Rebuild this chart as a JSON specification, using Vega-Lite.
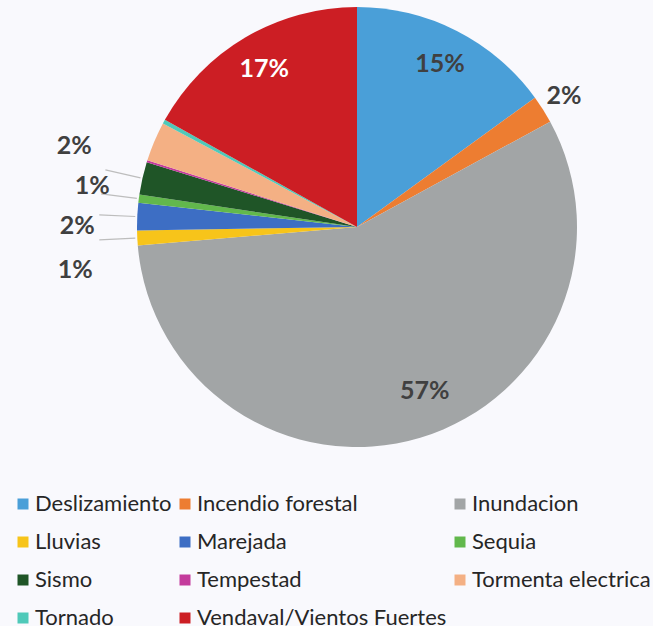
{
  "$schema": "https://vega.github.io/schema/vega-lite/v6.json",
  "width": 600,
  "height": 454,
  "autosize": {"type": "none"},
  "padding": {"left": 57, "top": 0, "right": 0, "bottom": 172},
  "background": "#f9f9fd",
  "view": {"stroke": null},
  "config": {"font": "Lato", "text": {"font": "Lato"}},
  "data": {
    "values": [
      {"cat": "Deslizamiento", "share": 0.150},
      {"cat": "Incendio forestal", "share": 0.0206},
      {"cat": "Inundacion", "share": 0.566},
      {"cat": "Lluvias", "share": 0.011},
      {"cat": "Marejada", "share": 0.020},
      {"cat": "Sequia", "share": 0.006},
      {"cat": "Sismo", "share": 0.024},
      {"cat": "Tempestad", "share": 0.0015},
      {"cat": "Tormenta electrica", "share": 0.029},
      {"cat": "Tornado", "share": 0.003},
      {"cat": "Vendaval/Vientos Fuertes", "share": 0.169}
    ]
  },
  "encoding": {
    "theta": {"field": "share", "type": "quantitative", "stack": true},
    "order": {"field": "cat", "sort": "ascending"}
  },
  "layer": [
    {
      "mark": {"type": "arc", "outerRadius": 220},
      "encoding": {
        "color": {
          "field": "cat",
          "type": "nominal",
          "scale": {
            "domain": ["Deslizamiento", "Incendio forestal", "Inundacion", "Lluvias", "Marejada", "Sequia", "Sismo", "Tempestad", "Tormenta electrica", "Tornado", "Vendaval/Vientos Fuertes"],
            "range": ["#4a9fd8", "#ed7d31", "#a2a5a6", "#f7c41a", "#3d6ec4", "#62b84c", "#1f5527", "#c33b9c", "#f4b084", "#4fc9b9", "#cc1e24"]
          },
          "legend": {
            "title": null,
            "orient": "none",
            "direction": "horizontal",
            "legendX": -45,
            "legendY": 493,
            "columns": 3,
            "symbolType": "square",
            "symbolSize": 121,
            "symbolStrokeWidth": 0,
            "labelFontSize": 22,
            "labelFont": "Lato",
            "labelColor": "#262626",
            "labelOffset": 1,
            "labelLimit": 400,
            "columnPadding": 2,
            "rowPadding": 16,
            "padding": 0
          }
        }
      }
    },
    {
      "mark": {"type": "arc", "innerRadius": 222, "outerRadius": 258, "padAngle": 1.5, "filled": false, "strokeWidth": 1.2},
      "encoding": {
        "stroke": {
          "condition": {"test": "indexof(['Lluvias','Marejada','Sequia','Sismo'], datum.cat) >= 0", "value": "#bdbdbd"},
          "value": "transparent"
        }
      }
    },
    {
      "mark": {"type": "text", "radius": 183, "fontSize": 25, "fontWeight": "bold", "fill": "#404040"},
      "encoding": {
        "text": {"condition": {"test": "datum.cat === 'Deslizamiento'", "field": "share", "type": "quantitative", "format": ".0%"}, "value": ""}
      }
    },
    {
      "mark": {"type": "text", "radius": 183, "fontSize": 25, "fontWeight": "bold", "fill": "#ffffff"},
      "encoding": {
        "text": {"condition": {"test": "datum.cat === 'Vendaval/Vientos Fuertes'", "field": "share", "type": "quantitative", "format": ".0%"}, "value": ""}
      }
    },
    {
      "mark": {"type": "text", "radius": 183, "dx": 15, "dy": -11, "fontSize": 25, "fontWeight": "bold", "fill": "#404040"},
      "encoding": {
        "text": {"condition": {"test": "datum.cat === 'Inundacion'", "field": "share", "type": "quantitative", "format": ".0%"}, "value": ""}
      }
    },
    {
      "mark": {"type": "text", "radius": 245, "fontSize": 25, "fontWeight": "bold", "fill": "#404040"},
      "encoding": {
        "text": {"condition": {"test": "datum.cat === 'Incendio forestal'", "field": "share", "type": "quantitative", "format": ".0%"}, "value": ""}
      }
    },
    {
      "mark": {"type": "text", "radius": 290, "dy": -17, "fontSize": 25, "fontWeight": "bold", "fill": "#404040"},
      "encoding": {
        "text": {"condition": {"test": "datum.cat === 'Sismo'", "field": "share", "type": "quantitative", "format": ".0%"}, "value": ""}
      }
    },
    {
      "mark": {"type": "text", "radius": 267, "dy": -7, "fontSize": 25, "fontWeight": "bold", "fill": "#404040"},
      "encoding": {
        "text": {"condition": {"test": "datum.cat === 'Sequia'", "field": "share", "type": "quantitative", "format": ".0%"}, "value": ""}
      }
    },
    {
      "mark": {"type": "text", "radius": 280, "dy": 12, "fontSize": 25, "fontWeight": "bold", "fill": "#404040"},
      "encoding": {
        "text": {"condition": {"test": "datum.cat === 'Marejada'", "field": "share", "type": "quantitative", "format": ".0%"}, "value": ""}
      }
    },
    {
      "mark": {"type": "text", "radius": 285, "dx": 3, "dy": 29, "fontSize": 25, "fontWeight": "bold", "fill": "#404040"},
      "encoding": {
        "text": {"condition": {"test": "datum.cat === 'Lluvias'", "field": "share", "type": "quantitative", "format": ".0%"}, "value": ""}
      }
    }
  ]
}
